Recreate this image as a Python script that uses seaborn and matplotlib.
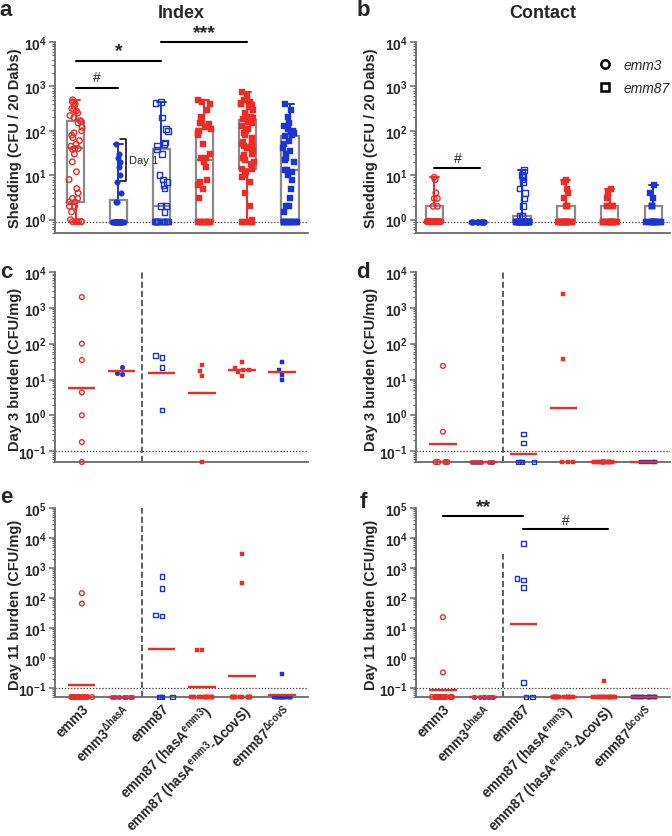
import numpy as np
import pandas as pd
import matplotlib.pyplot as plt
from matplotlib.lines import Line2D
from matplotlib.ticker import LogLocator, NullFormatter
import seaborn as sns

# ---- categories / labels ----
groups = ["emm3", "emm3_dhasA", "emm87", "emm87_hasA", "emm87_hasA_dcovS", "emm87_dcovS"]
tick_labels = [
    "emm3",
    "emm3$^{ΔhasA}$",
    "emm87",
    "emm87 (hasA$^{emm3}$)",
    "emm87 (hasA$^{emm3}$-ΔcovS)",
    "emm87$^{ΔcovS}$",
]
RED = "#ee2b24"
BLUE = "#1c34d0"
PURPLE = "#8a3a9c"
colors = [RED, BLUE, BLUE, RED, RED, BLUE]
markers = ["o", "o", "s", "s", "s", "s"]
filled = [False, True, False, True, True, True]

# ---- panel a: shedding, index ----
a_vals = [
    [0.9] * 6 + [1.0, 1.5, 2, 2, 2.5, 2.5, 3, 3, 4, 5, 8, 12, 20, 30, 38, 40, 40, 45, 50,
                 60, 70, 80, 90, 100, 120, 150, 160, 170, 200, 220, 250, 280, 300, 320,
                 350, 400, 450, 500],
    [0.9] * 22 + [2.5, 2.5, 4, 7, 10, 15, 20, 25, 30, 50],
    [0.9] * 14 + [1.5, 2, 2, 5, 6, 7, 8, 10, 30, 38, 45, 50, 55, 100, 110, 200, 420, 450],
    [0.9] * 9 + [3, 5, 6, 7, 8, 15, 20, 24, 25, 30, 50, 80, 90, 100, 110, 120, 140, 150,
                 200, 300, 400, 450, 500],
    [0.9] * 5 + [1, 2, 4, 7, 9, 10, 12, 14, 14, 15, 18, 20, 22, 25, 28, 30, 35, 40, 42, 45,
                 48, 48, 50, 55, 60, 70, 80, 90, 100, 110, 130, 150, 160, 170, 180, 190,
                 200, 250, 300, 350, 380, 400, 420, 450, 500, 600, 750],
    [0.9] * 11 + [1.5, 2, 2, 3, 5, 8, 10, 12, 13, 13, 20, 22, 25, 30, 35, 40, 50, 60, 75,
                  80, 90, 95, 100, 110, 130, 150, 200, 300, 400],
]
# ---- panel b: shedding, contact ----
b_vals = [
    [0.9] * 16 + [2, 2, 3, 3, 4, 8, 9],
    [0.9] * 12,
    [0.9] * 28 + [1.2, 1.2, 1.2, 2, 3, 4, 5, 7, 8, 9, 10, 12, 13],
    [0.9] * 16 + [2, 2, 2, 3, 4, 5, 7, 8],
    [0.9] * 15 + [2, 2, 2, 2, 3, 4, 5],
    [0.9] * 12 + [2, 2, 2, 3, 4, 6],
]
# ---- panel c: day 3 burden, index ----
c_vals = [
    [2000, 100, 35, 4.4, 1.0, 0.18, 0.05],
    [23, 15, 14],
    [47, 42, 22, 1.4],
    [26, 17, 12.4, 0.05],
    [21, 16, 30, 12.5, 19, 18],
    [30, 18, 13.5, 9.5],
]
c_lines = [5.8, 16.8, 15.5, 4.1, 19, 16]
# ---- panel d: day 3 burden, contact ----
d_vals = [
    [24, 0.35] + [0.05] * 5,
    [0.05] * 7,
    [0.3, 0.17] + [0.05] * 4,
    [2400, 38] + [0.05] * 3,
    [0.05] * 16,
    [0.05] * 5,
]
d_lines = [0.16, 0.05, 0.085, 1.6, 0.05, 0.05]
# ---- panel e: day 11 burden, index ----
e_vals = [
    [145, 65] + [0.05] * 16,
    [0.05] * 8,
    [515, 205, 27, 25] + [0.05] * 4,
    [1.9, 1.8] + [0.05] * 14,
    [2900, 325] + [0.05] * 12,
    [0.3] + [0.05] * 16,
]
e_lines = [0.13, 0.05, 2.0, 0.11, 0.25, 0.058]
# ---- panel f: day 11 burden, contact ----
f_vals = [
    [23, 0.33] + [0.05] * 16,
    [0.05] * 8,
    [6600, 450, 400, 225, 0.15, 0.05, 0.05],
    [0.05] * 16,
    [0.17] + [0.05] * 16,
    [0.05] * 16,
]
f_lines = [0.085, 0.05, 13.5, 0.05, 0.05, 0.05]

yticks_shed = [1, 10, 100, 1000, 10000]
yticks_d3 = [0.1, 1, 10, 100, 1000, 10000]
yticks_d11 = [0.1, 1, 10, 100, 1000, 10000, 100000]

sns.set_theme(style="ticks")
plt.rcParams["font.family"] = ["Liberation Sans", "DejaVu Sans"]
plt.rcParams["font.weight"] = "bold"
plt.rcParams["mathtext.fontset"] = "custom"
plt.rcParams["mathtext.rm"] = "Liberation Sans"
plt.rcParams["mathtext.bf"] = "Liberation Sans:bold"
plt.rcParams["mathtext.it"] = "Liberation Sans:italic"
plt.rcParams["mathtext.default"] = "bf"

np.random.seed(3)
AXC = "#6a6a6a"
LOD = 0.05  # detection floor for the burden panels


def points(ax, vals, i, base, size, jitter, color=None, swarm=False):
    # values at the floor form a jittered row, the rest a column / swarm
    c = color or colors[i]
    kw = dict(order=groups, color=c, marker=markers[i], size=size, edgecolor=c,
              linewidth=1.0 if not filled[i] else 0.3, ax=ax)
    if not filled[i]:
        kw["facecolor"] = "none"
    low = [v for v in vals if v <= base]
    high = [v for v in vals if v > base]
    if low:
        sns.stripplot(x=[groups[i]] * len(low), y=low, jitter=jitter, **kw)
    if high:
        if swarm:
            sns.swarmplot(x=[groups[i]] * len(high), y=high, warn_thresh=1, **kw)
        else:
            j = 0.16 if len(high) > 15 else 0.07
            sns.stripplot(x=[groups[i]] * len(high), y=high, jitter=j, **kw)


def box_panel(ax, vals):
    ax.set_yscale("log")
    for i, g in enumerate(groups):
        sub = pd.DataFrame({"group": g, "val": vals[i]})
        # coloured whiskers + caps (min to max)
        sns.boxplot(data=sub, x="group", y="val", order=groups, color=colors[i],
                    fill=False, whis=(0, 100), width=0.4, linewidth=1.4,
                    showbox=False, showfliers=False,
                    medianprops={"visible": False}, ax=ax)
        # grey box with median
        sns.boxplot(data=sub, x="group", y="val", order=groups, color="white",
                    linecolor="#8a8a8a", whis=(0, 100), width=0.4, linewidth=1.6,
                    showcaps=False, showfliers=False,
                    whiskerprops={"visible": False}, ax=ax)
        points(ax, vals[i], i, 0.9, size=4.0, jitter=0.17)
    ax.axhline(0.9, color="#333333", ls=(0, (1, 1.5)), lw=0.9, zorder=1)


def dot_panel(ax, vals, lines):
    ax.set_yscale("log")
    for i, g in enumerate(groups):
        c = colors[i]
        if i == 1 and all(v == LOD for v in vals[i]):
            c = PURPLE
        points(ax, vals[i], i, LOD, size=3.4, jitter=0.28, color=c, swarm=True)
    ax.hlines(lines, np.arange(len(groups)) - 0.34, np.arange(len(groups)) + 0.34,
              color=RED, lw=1.7, zorder=4)
    ax.axhline(0.1, color="#333333", ls=(0, (1, 1.5)), lw=0.9, zorder=1)


def style(ax, ylim, yticks, ylabel, lab_x, xlabels=False, floor=None):
    sns.despine(ax=ax)
    if floor is not None:
        # x axis sits on the detection floor so the floor points are whole
        ax.spines["bottom"].set_position(("data", floor))
        ax.spines["left"].set_bounds(floor, ylim[1])
    for s in ["left", "bottom"]:
        ax.spines[s].set_color(AXC)
        ax.spines[s].set_linewidth(1.3)
    ax.set_ylim(*ylim)
    ax.set_yticks(yticks, [f"$10^{{{int(round(np.log10(t)))}}}$" for t in yticks])
    ax.yaxis.set_minor_locator(LogLocator(base=10, subs=np.arange(2, 10), numticks=20))
    ax.yaxis.set_minor_formatter(NullFormatter())
    ax.tick_params(axis="y", which="major", length=4, width=1.1, color=AXC,
                   labelsize=10, pad=2)
    ax.tick_params(axis="y", which="minor", length=2, width=0.8, color=AXC)
    if xlabels:
        ax.set_xticks(range(len(groups)), tick_labels)
        ax.tick_params(axis="x", length=0, labelsize=9.8, pad=3)
        for t in ax.get_xticklabels():
            t.set_rotation(45)
            t.set_ha("right")
            t.set_rotation_mode("anchor")
            t.set_fontweight("bold")
    else:
        ax.set_xticks([])
    ax.set_xlabel("")
    ax.set_ylabel(ylabel, fontsize=10.5, fontweight="bold")
    ax.yaxis.set_label_coords(lab_x, 0.5)


def bracket(ax, x1, x2, y, txt, ty, size=14):
    ax.plot([x1, x2], [y, y], color="black", lw=1.5, clip_on=False)
    ax.text((x1 + x2) / 2, ty, txt, ha="center", va="center", fontsize=size,
            fontweight="bold" if "*" in txt else "normal", clip_on=False)


W, H = 672, 837
fig = plt.figure(figsize=(W / 100, H / 100), dpi=100)


def add_ax(x0, y_top, x1, y_bot):
    return fig.add_axes([x0 / W, 1 - y_bot / H, (x1 - x0) / W, (y_bot - y_top) / H])


ax_a = add_ax(55, 43, 308, 234)
ax_b = add_ax(416, 43, 670, 234)
ax_c = add_ax(55, 273, 308, 466.1)
ax_d = add_ax(416, 273, 670, 466.1)
ax_e = add_ax(55, 509, 308, 700.6)
ax_f = add_ax(416, 509, 670, 700.6)

# a / b
box_panel(ax_a, a_vals)
style(ax_a, (0.5, 1e4), yticks_shed, "Shedding (CFU / 20 Dabs)", -0.13)
ax_a.set_xlim(-0.48, 5.42)
box_panel(ax_b, b_vals)
style(ax_b, (0.5, 1e4), yticks_shed, "Shedding (CFU / 20 Dabs)", -0.15)
ax_b.set_xlim(-0.42, 5.38)

bracket(ax_a, 0, 1, 900, "#", 1600, size=10)
bracket(ax_a, 0, 2, 3800, "*", 6500)
bracket(ax_a, 2, 4, 9800, "***", 16500)
# Day 1 bracket
ax_a.plot([1.03, 1.18, 1.18, 1.03], [67, 67, 7.4, 7.4], color="black", lw=1.1)
ax_a.text(1.25, 22, "Day 1", fontsize=8, fontweight="normal", va="center")
bracket(ax_b, 0, 1.05, 14.5, "#", 25, size=10)

leg = [
    Line2D([], [], marker="o", ls="none", mfc="none", mec="black", mew=1.8, ms=6),
    Line2D([], [], marker="s", ls="none", mfc="none", mec="black", mew=1.8, ms=6),
]
ax_b.legend(leg, ["emm3", "emm87"], loc="upper right", bbox_to_anchor=(1.05, 0.98),
            frameon=False, handletextpad=0.4, labelspacing=0.6,
            prop={"style": "italic", "weight": "normal", "size": 10})

# c / d
dot_panel(ax_c, c_vals, c_lines)
style(ax_c, (0.041, 1e4), yticks_d3, "Day 3 burden (CFU/mg)", -0.13, floor=LOD)
dot_panel(ax_d, d_vals, d_lines)
style(ax_d, (0.041, 1e4), yticks_d3, "Day 3 burden (CFU/mg)", -0.15, floor=LOD)
for ax in (ax_c, ax_d):
    ax.set_xlim(-0.67, 5.65)
    ax.plot([1.5, 1.5], [LOD, 1e4], color="#333333", ls=(0, (4, 2)), lw=1.1)

# e / f
dot_panel(ax_e, e_vals, e_lines)
style(ax_e, (0.041, 1e5), yticks_d11, "Day 11 burden (CFU/mg)", -0.13, xlabels=True, floor=LOD)
dot_panel(ax_f, f_vals, f_lines)
style(ax_f, (0.041, 1e5), yticks_d11, "Day 11 burden (CFU/mg)", -0.15, xlabels=True, floor=LOD)
for ax in (ax_e, ax_f):
    ax.set_xlim(-0.67, 5.65)
ax_e.plot([1.5, 1.5], [LOD, 1e5], color="#333333", ls=(0, (4, 2)), lw=1.1)
ax_f.plot([1.5, 1.5], [LOD, 3000], color="#333333", ls=(0, (4, 2)), lw=1.1)
bracket(ax_f, 0, 2, 55000, "**", 1.1e5)
bracket(ax_f, 2, 4.1, 19600, "#", 40000, size=10)

# titles and panel letters
fig.text(181 / W, 1 - 14 / H, "Index", ha="center", va="center", fontsize=13, fontweight="bold")
fig.text(543 / W, 1 - 14 / H, "Contact", ha="center", va="center", fontsize=13, fontweight="bold")
for lab, x, y in [("a", 6, 10), ("b", 363, 10), ("c", 6, 272), ("d", 363, 272),
                  ("e", 6, 498), ("f", 363, 503)]:
    fig.text(x / W, 1 - y / H, lab, ha="center", va="center", fontsize=16, fontweight="bold")

fig.savefig("out.png", dpi=100)
